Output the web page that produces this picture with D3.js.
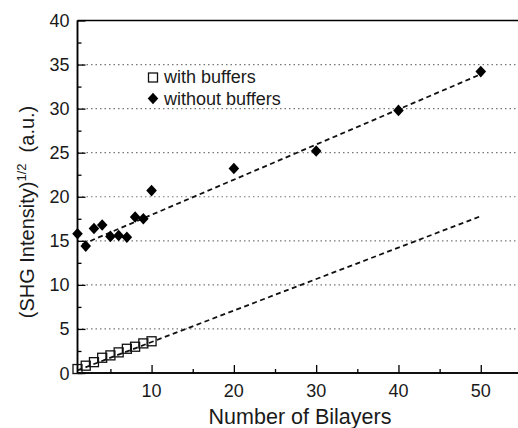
<!DOCTYPE html>
<html>
<head>
<meta charset="utf-8">
<script src="https://cdn.jsdelivr.net/npm/d3@7"></script>
<style>
  body { margin: 0; background: #fff; }
  text { font-family: Arial, "Liberation Sans", sans-serif; }
</style>
</head>
<body>
<script>
// Data
const bilayersWith = [1, 2, 3, 4, 5, 6, 7, 8, 9, 10];
const intensityWith = [0.45, 0.83, 1.23, 1.73, 2.0, 2.34, 2.75, 2.98, 3.36, 3.6];

const bilayersWithout = [1, 2, 3, 4, 5, 6, 7, 8, 9, 10, 20, 30, 40, 50];
const intensityWithout = [15.8, 14.4, 16.4, 16.8, 15.5, 15.6, 15.4, 17.7, 17.5, 20.7, 23.2, 25.2, 29.8, 34.2];

// Linear fits (end points)
const fitWith = [[1, 0.3], [50, 17.8]];
const fitWithout = [[1.6, 14.6], [50, 33.9]];

const xTicks = [10, 20, 30, 40, 50];
const yTicks = [0, 5, 10, 15, 20, 25, 30, 35, 40];
const gridValues = [5, 10, 15, 20, 25, 30, 35];

const width = 518, height = 428;
const margin = { top: 20.5, left: 77.5, bottom: 55 };

const svg = d3.select("body")
    .append("svg")
    .attr("width", width)
    .attr("height", height);

const x = d3.scaleLinear().domain([1, 55]).range([margin.left, margin.left + 54 * 8.23]);
const y = d3.scaleLinear().domain([0, 40]).range([height - margin.bottom, margin.top]);

// dotted grid lines
svg.selectAll(".grid")
    .data(gridValues)
    .enter().append("line")
    .attr("x1", x(1)).attr("x2", width)
    .attr("y1", d => y(d)).attr("y2", d => y(d))
    .attr("stroke", "#777")
    .attr("stroke-width", 1.2)
    .attr("stroke-dasharray", "1.5,3");

// frame top
svg.append("line")
    .attr("x1", x(1)).attr("x2", width)
    .attr("y1", y(40)).attr("y2", y(40))
    .attr("stroke", "#000").attr("stroke-width", 1.5);

// x axis, ticks pointing inward
const xAxis = svg.append("g")
    .attr("transform", `translate(0,${y(0)})`)
    .call(d3.axisTop(x).tickValues(xTicks).tickSize(8).tickFormat(""));
xAxis.append("g").call(d3.axisTop(x).tickValues([5, 15, 25, 35, 45]).tickSize(4).tickFormat(""));
xAxis.selectAll(".domain").attr("stroke-width", 1.5).attr("d", `M${x(1)},0H${width}`);
xAxis.selectAll("line").attr("stroke-width", 1.3);

svg.selectAll(".xlabel")
    .data(xTicks)
    .enter().append("text")
    .attr("x", d => x(d))
    .attr("y", y(0) + 24)
    .attr("text-anchor", "middle")
    .attr("font-size", 18)
    .attr("fill", "#1a1a1a")
    .text(d => d);

// y axis, ticks pointing inward
const yAxis = svg.append("g")
    .attr("transform", `translate(${x(1)},0)`)
    .call(d3.axisRight(y).tickValues(yTicks).tickSize(8).tickFormat(""));
yAxis.append("g").call(d3.axisRight(y).tickValues(d3.range(2.5, 40, 5)).tickSize(4).tickFormat(""));
yAxis.selectAll(".domain").attr("stroke-width", 1.5).attr("d", `M0,${y(0)}V${y(40)}`);
yAxis.selectAll("line").attr("stroke-width", 1.3);

svg.selectAll(".ylabel")
    .data(yTicks)
    .enter().append("text")
    .attr("x", x(1) - 8)
    .attr("y", d => y(d) + 6.5)
    .attr("text-anchor", "end")
    .attr("font-size", 18)
    .attr("fill", "#1a1a1a")
    .text(d => d);

// axis titles
svg.append("text")
    .attr("x", 300)
    .attr("y", 424)
    .attr("text-anchor", "middle")
    .attr("font-size", 21.5)
    .attr("fill", "#1a1a1a")
    .text("Number of Bilayers");

const yTitle = svg.append("text")
    .attr("transform", `translate(34,212) rotate(-90)`)
    .attr("text-anchor", "middle")
    .attr("font-size", 20)
    .attr("fill", "#1a1a1a");
yTitle.append("tspan").text("(SHG Intensity)");
yTitle.append("tspan").attr("dy", -8).attr("font-size", 13).text("1/2");
yTitle.append("tspan").attr("dy", 8).text("\u00a0\u00a0(a.u.)");

// fit lines
const line = d3.line().x(d => x(d[0])).y(d => y(d[1]));
[fitWith, fitWithout].forEach(f => {
    svg.append("path")
        .attr("d", line(f))
        .attr("fill", "none")
        .attr("stroke", "#111")
        .attr("stroke-width", 1.8)
        .attr("stroke-dasharray", "5,3.5");
});

// with buffers: open squares
svg.selectAll(".sq")
    .data(bilayersWith.map((b, i) => [b, intensityWith[i]]))
    .enter().append("rect")
    .attr("x", d => x(d[0]) - 4.5)
    .attr("y", d => y(d[1]) - 4.5)
    .attr("width", 9).attr("height", 9)
    .attr("fill", "none")
    .attr("stroke", "#111")
    .attr("stroke-width", 1.3);

// without buffers: filled diamonds
const diamond = "M0,-5.8L5.3,0L0,5.8L-5.3,0Z";
svg.selectAll(".dm")
    .data(bilayersWithout.map((b, i) => [b, intensityWithout[i]]))
    .enter().append("path")
    .attr("d", diamond)
    .attr("transform", d => `translate(${x(d[0])},${y(d[1])})`)
    .attr("fill", "#000");

// legend
const legend = svg.append("g");
legend.append("rect")
    .attr("x", 148.5).attr("y", 73).attr("width", 9).attr("height", 9)
    .attr("fill", "#fff").attr("stroke", "#111").attr("stroke-width", 1.3);
legend.append("text")
    .attr("x", 164).attr("y", 82.5)
    .attr("font-size", 18).attr("fill", "#1a1a1a")
    .text("with buffers");
legend.append("path")
    .attr("d", diamond)
    .attr("transform", "translate(153,98.5)")
    .attr("fill", "#000");
legend.append("text")
    .attr("x", 164).attr("y", 105)
    .attr("font-size", 18).attr("fill", "#1a1a1a")
    .text("without buffers");
</script>
</body>
</html>
